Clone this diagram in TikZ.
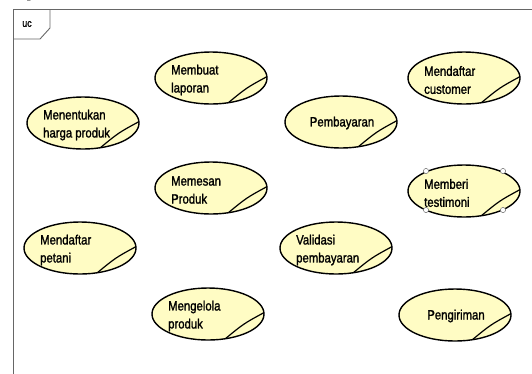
\documentclass[tikz,border=0pt]{standalone}
\usepackage{fontspec}
\usetikzlibrary{calc}
\setmainfont{Liberation Sans}[FakeStretch=0.84]
\newfontfamily\ucfont{Liberation Sans}[FakeStretch=0.84,FakeBold=1.4]
\newfontfamily\serifp{Liberation Serif}
\begin{document}
\begin{tikzpicture}[x=1pt,y=-1pt,
  ucfill/.style={fill={rgb,255:red,255;green,252;blue,196}},
  ucline/.style={draw=black,line width=1.4pt},
  uclabel/.style={inner sep=0pt,font=\ucfont\fontsize{13.5}{18}\selectfont,text=black},
  handle/.style={draw=black!55,fill=white,line width=0.5pt}]
  \useasboundingbox (0,0) rectangle (532,373);
  \clip (0,0) rectangle (532,373);

  % use case oval with its folded corner: name, centre x, centre y
  \newcommand\ucoval[3]{%
    \path[ucfill,ucline] (#2,#3) ellipse [x radius=56,y radius=26];
    \coordinate (#1-a) at ($(#2,#3)+({56*cos(-72)},{-26*sin(-72)})$);
    \coordinate (#1-b) at ($(#2,#3)+({56*cos(3)},{-26*sin(3)})$);
    \draw[line width=1.2pt] (#1-a) .. controls ($(#1-a)!0.5!(#1-b)+(-1,-2)$) .. (#1-b);}
  % two-line label, left aligned
  \newcommand\uctwo[4]{%
    \ucoval{#1-oval}{#2}{#3}
    \node[uclabel,align=left,anchor=west] (#1) at (#2-40,#3+2) {#4};}
  % one-line label, centred
  \newcommand\ucone[4]{%
    \ucoval{#1-oval}{#2}{#3}
    \node[uclabel] (#1) at (#2+1,#3+1) {#4};}

  % stray descender from the line above the frame
  \node[inner sep=0pt,anchor=base,font=\serifp\fontsize{16}{16}\selectfont] (pfrag) at (31,-2.5) {p};

  % frame with the "uc" tab
  \draw[black!60,line width=0.9pt] (13,380) -- (13,9) -- (540,9);
  \draw[black!60,line width=0.9pt] (13,39) -- (40,39) -- (50,28) -- (50,9);
  \node[inner sep=0pt,font=\ucfont\fontsize{10.5}{10}\selectfont] (uc) at (27,24) {uc};

  \uctwo{laporan}{211}{78}{Membuat\\laporan}
  \uctwo{customer}{464}{78}{Mendaftar\\customer}
  \uctwo{harga}{83}{123}{Menentukan\\harga produk}
  \ucone{bayar}{341}{122}{Pembayaran}
  \uctwo{pesan}{211}{188}{Memesan\\Produk}
  \uctwo{testimoni}{464}{191}{Memberi\\testimoni}
  \uctwo{petani}{80}{248}{Mendaftar\\petani}
  \uctwo{validasi}{336}{248}{Validasi\\pembayaran}
  \uctwo{kelola}{208}{314}{Mengelola\\produk}
  \ucone{kirim}{455}{315}{Pengiriman}

  % selection handles round the chosen use case
  \foreach \hx/\hy [count=\i] in {426/171, 503/171, 426/210, 503/210}
    \path[handle] (\hx,\hy) circle [radius=2.6] coordinate (h\i);
\end{tikzpicture}
\end{document}
